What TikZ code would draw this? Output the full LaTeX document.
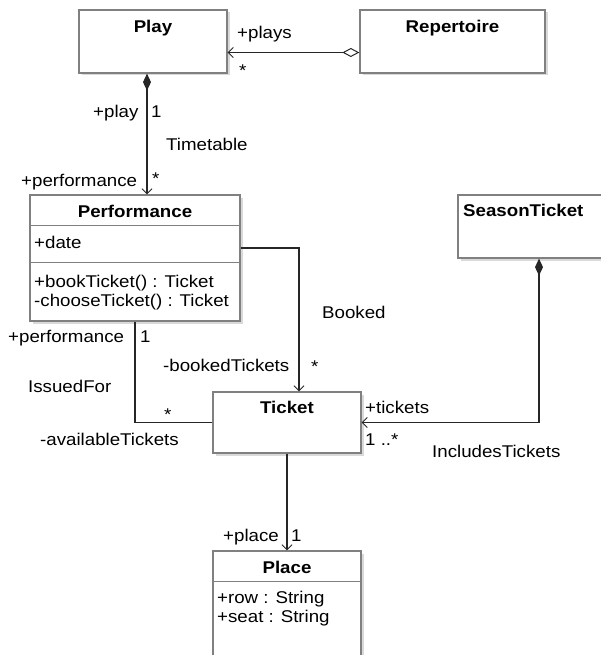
\documentclass[tikz,border=0pt]{standalone}
\usepackage{fontspec}
\setmainfont{Liberation Sans}[FakeStretch=1.1]
\usetikzlibrary{arrows.meta,shadows}
\definecolor{boxgray}{gray}{0.5}
\definecolor{linegray}{gray}{0.15}
\def\umlfont{\fontsize{17pt}{19pt}\selectfont}
\tikzset{
  umlbox/.style={draw=boxgray,line width=1.3pt,fill=white,inner sep=0pt,
    drop shadow={shadow xshift=2.5pt,shadow yshift=-2.5pt,fill=black!15,opacity=1}},
  ttl/.style={anchor=base,inner sep=0pt,font=\umlfont\bfseries},
  lbl/.style={anchor=base west,inner sep=0pt},
  link/.style={line width=1.5pt,draw=linegray},
}
\def\divider#1#2{\draw[boxgray,line width=1.3pt] #1 -- #2;}

\begin{document}
\begin{tikzpicture}[x=1pt,y=-1pt,font=\umlfont,
  >={Straight Barb[length=5pt,width=10pt,line width=0.9pt]},
  comp/.tip={Diamond[length=17pt,width=8pt]},
  aggr/.tip={Diamond[open,length=17pt,width=9pt,line width=1pt,fill=white]}]
\useasboundingbox (0,0) rectangle (601,655);
\clip (0,0) rectangle (601,655);
% classes
\node[umlbox,minimum width=148pt,minimum height=63pt] (Play) at (153,41.5) {};
\node[umlbox,minimum width=185pt,minimum height=63pt] (Repertoire) at (452.5,41.5) {};
\node[umlbox,minimum width=210pt,minimum height=126pt] (Performance) at (135,258) {};
\node[umlbox,minimum width=162pt,minimum height=63pt] (SeasonTicket) at (539,226.5) {};
\node[umlbox,minimum width=148pt,minimum height=61pt] (Ticket) at (287,422.5) {};
\node[umlbox,minimum width=148pt,minimum height=130pt] (Place) at (287,616) {};
\divider{([yshift=-31pt]Performance.north west)}{([yshift=-31pt]Performance.north east)}
\divider{([yshift=-68pt]Performance.north west)}{([yshift=-68pt]Performance.north east)}
\divider{([yshift=-31pt]Place.north west)}{([yshift=-31pt]Place.north east)}
% class texts
\node[ttl] (tPlay) at (153,33) {Play};
\node[ttl] (tRepertoire) at (452.5,33) {Repertoire};
\node[ttl] (tPerformance) at (135,217) {Performance};
\node[ttl,anchor=base west] (tSeasonTicket) at (463,216) {SeasonTicket};
\node[ttl] (tTicket) at (287,413) {Ticket};
\node[ttl] (tPlace) at (287,573) {Place};
\node[lbl] (aDate) at (34,248) {+date};
\node[lbl] (oBook) at (34,287) {+bookTicket() : Ticket};
\node[lbl] (oChoose) at (34,306) {-chooseTicket() : Ticket};
\node[lbl] (aRow) at (217,603) {+row : String};
\node[lbl] (aSeat) at (217,622) {+seat : String};
% associations
\draw[link,aggr->] ([yshift=-11pt]Repertoire.west) -- ([yshift=-11pt]Play.east);
\draw[link,comp->] ([xshift=-6pt]Play.south) -- ([xshift=-6pt]Play.south |- Performance.north);
\draw[link,->] ([yshift=10pt]Performance.east) -| ([xshift=12pt]Ticket.north);
\draw[link] (Performance.south) |- (Ticket.west);
\draw[link,comp->] (SeasonTicket.south) |- (Ticket.east);
\draw[link,->] (Ticket.south) -- (Place.north);
% role names and multiplicities
\node[lbl] (lPlays) at (237,39) {+plays};
\node[lbl] (mPlays) at (239,77) {*};
\node[lbl] (lPlay) at (93,118) {+play};
\node[lbl] (mPlay) at (151,118) {1};
\node[lbl] (nTimetable) at (166,150) {Timetable};
\node[lbl] (lPerfTop) at (21,186) {+performance};
\node[lbl] (mPerfTop) at (152,185) {*};
\node[lbl] (lPerfBottom) at (8,342) {+performance};
\node[lbl] (mPerfBottom) at (140,342) {1};
\node[lbl] (nBooked) at (322,318) {Booked};
\node[lbl] (lBooked) at (163,371) {-bookedTickets};
\node[lbl] (mBooked) at (311,372) {*};
\node[lbl] (nIssued) at (28,392) {IssuedFor};
\node[lbl] (mIssued) at (164,420) {*};
\node[lbl] (lAvailable) at (40,445) {-availableTickets};
\node[lbl] (lTickets) at (365,413) {+tickets};
\node[lbl] (mTickets) at (365,445) {1 ..*};
\node[lbl] (nIncludes) at (432,457) {IncludesTickets};
\node[lbl] (lPlace) at (223,541) {+place};
\node[lbl] (mPlace) at (291,541) {1};
\end{tikzpicture}
\end{document}
